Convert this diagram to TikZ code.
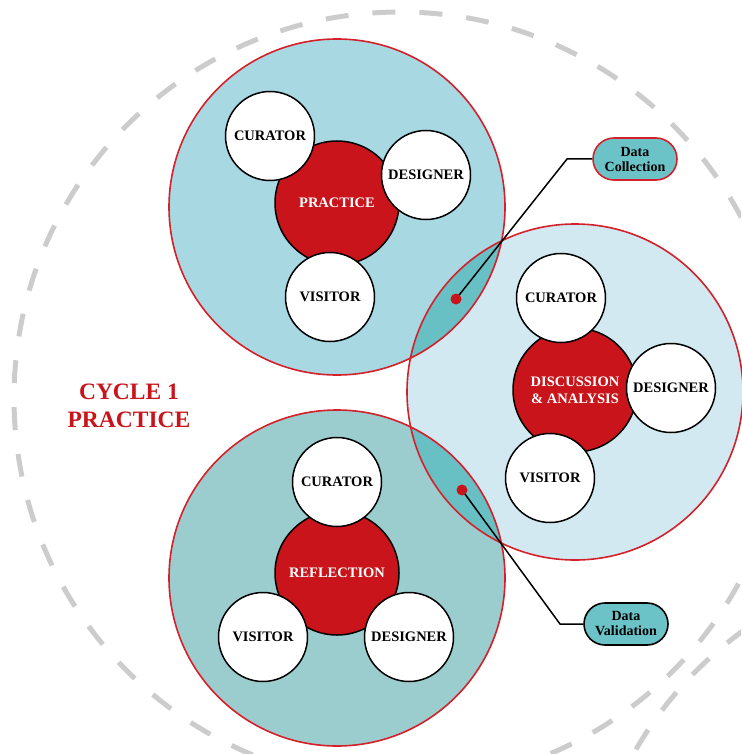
\documentclass[tikz,border=0pt]{standalone}
\usepackage{fontspec}
\setmainfont{Liberation Serif}
\usetikzlibrary{shapes.misc}

\definecolor{practicefill}{HTML}{A8D8E2}
\definecolor{discussfill}{HTML}{D2E9F1}
\definecolor{reflectfill}{HTML}{9CCDCE}
\definecolor{lensfill}{HTML}{68BFC4}
\definecolor{corered}{HTML}{C8141A}
\definecolor{ringred}{HTML}{D4202A}
\definecolor{cyclegray}{HTML}{CCCCCC}
\definecolor{tagfill}{HTML}{6BC3C7}

\begin{document}
\begin{tikzpicture}[x=1pt,y=-1pt,
  cyclering/.style={draw=cyclegray, line width=5pt, dash pattern=on 23pt off 24pt},
  ringline/.style={draw=ringred, line width=1.6pt},
  core/.style={circle, fill=corered, draw=black, line width=1.5pt, minimum size=124pt,
    inner sep=0pt, align=center, text=white, font=\fontsize{14.5}{17}\selectfont\bfseries},
  role/.style={circle, fill=white, draw=black, line width=1.5pt, minimum size=89pt,
    inner sep=0pt, font=\fontsize{14.5}{15}\selectfont\bfseries},
  tag/.style={rounded rectangle, fill=tagfill, line width=1.6pt, minimum width=84pt,
    minimum height=42pt, inner sep=0pt, align=center, font=\fontsize{14}{15}\selectfont\bfseries},
  link/.style={draw=black, line width=1.5pt},
  lensdot/.style={circle, fill=corered, minimum size=11pt, inner sep=0pt},
  cycletitle/.style={text=corered, align=center, font=\fontsize{23.5}{27.5}\selectfont\bfseries}
]
\useasboundingbox (0,0) rectangle (741,754);

% dashed rings of the cycles
\begin{scope}
  \clip (0,0) rectangle (741,754);
  \draw[cyclering] (400,398) circle[radius=386pt];
  \draw[cyclering] (970,943) circle[radius=386pt];
\end{scope}

% the three phase areas
\coordinate (pc) at (337,207);
\coordinate (dc) at (575,392);
\coordinate (rc) at (337,578);
\fill[practicefill] (pc) circle[radius=168pt];
\fill[reflectfill] (rc) circle[radius=168pt];
\fill[discussfill] (dc) circle[radius=168pt];
\begin{scope}
  \clip (pc) circle[radius=168pt];
  \fill[lensfill] (dc) circle[radius=168pt];
\end{scope}
\begin{scope}
  \clip (rc) circle[radius=168pt];
  \fill[lensfill] (dc) circle[radius=168pt];
\end{scope}
\foreach \c in {pc,dc,rc} \draw[ringline] (\c) circle[radius=168pt];

% data tags and their leaders
\node[tag, draw=ringred] (collect) at (635,159) {Data\\Collection};
\node[tag, draw=black] (valid) at (626,624) {Data\\Validation};
\coordinate (lensc) at (456,299);
\coordinate (lensv) at (462,490);
\coordinate (bendc) at (567,159);
\coordinate (bendv) at (560,624);
\draw[link] (lensc) -- (bendc) -- (collect.west);
\draw[link] (lensv) -- (bendv) -- (valid.west);
\node[lensdot] (dotc) at (lensc) {};
\node[lensdot] (dotv) at (lensv) {};

% practice
\node[core] (practice) at (337,203) {PRACTICE};
\node[role] (pcur) at (270,136) {CURATOR};
\node[role] (pdes) at (426,175) {DESIGNER};
\node[role] (pvis) at (330,297) {VISITOR};

% discussion and analysis
\node[core] (discuss) at (575,390) {DISCUSSION\\\& ANALYSIS};
\node[role] (dcur) at (561,298) {CURATOR};
\node[role] (ddes) at (671,388) {DESIGNER};
\node[role] (dvis) at (550,478) {VISITOR};

% reflection
\node[core] (reflect) at (337,573) {REFLECTION};
\node[role] (rcur) at (337,482) {CURATOR};
\node[role] (rvis) at (263,637) {VISITOR};
\node[role] (rdes) at (409,637) {DESIGNER};

% cycle title
\node[cycletitle] (title) at (129,406) {CYCLE 1\\PRACTICE};
\end{tikzpicture}
\end{document}
